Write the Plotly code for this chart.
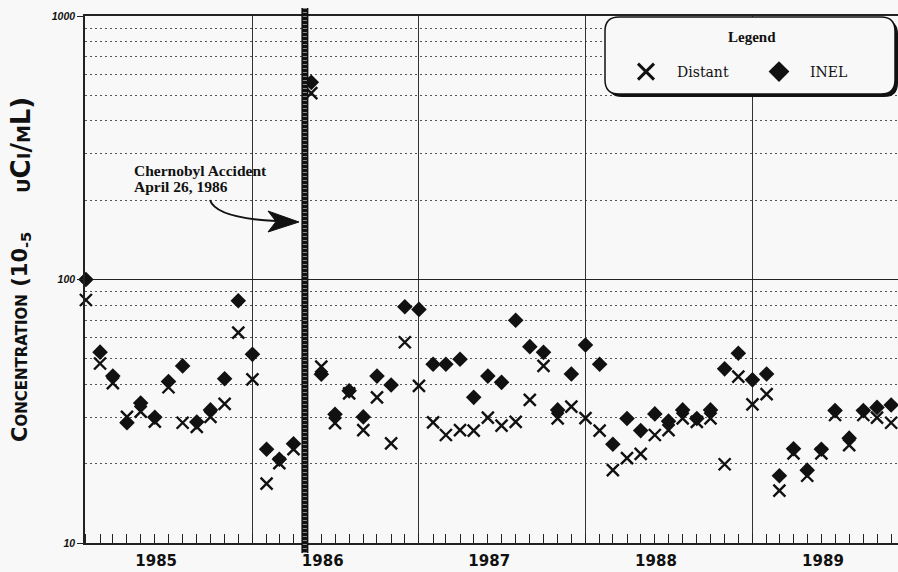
import plotly.graph_objects as go

# ---------------- data ----------------
sample_dates = [
    "1985-01-01", "1985-02-01", "1985-03-01", "1985-04-01", "1985-05-01", "1985-06-01",
    "1985-07-01", "1985-08-01", "1985-09-01", "1985-10-01", "1985-11-01", "1985-12-01",
    "1986-01-01", "1986-02-01", "1986-03-01", "1986-04-01", "1986-05-10", "1986-06-01",
    "1986-07-01", "1986-08-01", "1986-09-01", "1986-10-01", "1986-11-01", "1986-12-01",
    "1987-01-01", "1987-02-01", "1987-03-01", "1987-04-01", "1987-05-01", "1987-06-01",
    "1987-07-01", "1987-08-01", "1987-09-01", "1987-10-01", "1987-11-01", "1987-12-01",
    "1988-01-01", "1988-02-01", "1988-03-01", "1988-04-01", "1988-05-01", "1988-06-01",
    "1988-07-01", "1988-08-01", "1988-09-01", "1988-10-01", "1988-11-01", "1988-12-01",
    "1989-01-01", "1989-02-01", "1989-03-01", "1989-04-01", "1989-05-01", "1989-06-01",
    "1989-07-01", "1989-08-01", "1989-09-01", "1989-10-01", "1989-11-01",
]

inel = [
    100, 53, 43, 28.6, 34, 30, 41, 47, 28.8, 32, 42, 83,
    52, 22.7, 20.8, 23.8, 560, 43.7, 30.8, 37.8, 30.1, 43, 39.8, 78.8,
    77, 47.7, 47.7, 49.8, 35.7, 43, 40.7, 70, 55.6, 52.9, 32, 43.8,
    56.4, 47.7, 23.7, 29.7, 26.7, 30.9, 29, 32, 29.7, 32, 45.8, 52.5,
    41.6, 43.8, 18, 22.8, 18.9, 22.7, 31.8, 25, 31.8, 32.7, 33.4,
]

distant = [
    83.6, 48, 40.4, 30.1, 31.5, 28.9, 39, 28.6, 27.6, 30.1, 33.7, 62.9,
    41.8, 16.8, 20.1, 22.7, 510, 46.7, 28.5, 37, 26.8, 35.7, 23.9, 57.8,
    39.5, 28.7, 25.7, 26.8, 26.7, 29.9, 27.9, 28.8, 34.9, 47, 29.7, 32.9,
    29.8, 26.7, 18.9, 21, 21.8, 25.7, 26.8, 29.7, 28.8, 29.7, 19.9, 42.8,
    33.6, 36.7, 15.8, 21.9, 18, 21.9, 30.6, 23.5, 30.6, 29.9, 28.6,
]

y_tick_values = [10, 100, 1000]
y_tick_labels = ["10", "100", "1000"]
chernobyl_date = "1986-04-26"
x_range = ["1984-12-30", "1989-11-16"]

# ---------------- geometry helpers (decorations only) ----------------
W, H = 898, 572
ML, MR, MT, MB = 85, 0, 16, 29
PW = W - ML - MR
PH = H - MT - MB


def X(px):
    return (px - ML) / PW


def Y(py):
    return (H - MB - py) / PH


def rrect(x0, y0, x1, y1, r):
    return (
        f"M {X(x0 + r)},{Y(y0)} L {X(x1 - r)},{Y(y0)} "
        f"Q {X(x1)},{Y(y0)} {X(x1)},{Y(y0 + r)} L {X(x1)},{Y(y1 - r)} "
        f"Q {X(x1)},{Y(y1)} {X(x1 - r)},{Y(y1)} L {X(x0 + r)},{Y(y1)} "
        f"Q {X(x0)},{Y(y1)} {X(x0)},{Y(y1 - r)} L {X(x0)},{Y(y0 + r)} "
        f"Q {X(x0)},{Y(y0)} {X(x0 + r)},{Y(y0)} Z"
    )


BG = "#f8f8f8"
INK = "#111111"

fig = go.Figure()

fig.add_trace(go.Scatter(
    x=sample_dates, y=inel, mode="markers", name="INEL", showlegend=False,
    cliponaxis=False,
    marker=dict(symbol="diamond", size=12, color=INK, line=dict(width=0)),
))
fig.add_trace(go.Scatter(
    x=sample_dates, y=distant, mode="markers", name="Distant", showlegend=False,
    cliponaxis=False,
    marker=dict(symbol="x-thin", size=12, color=INK, line=dict(width=2.4, color=INK)),
))
# legend entries (larger symbols, as in the original key)
fig.add_trace(go.Scatter(
    x=[None], y=[None], mode="markers", name="Distant",
    marker=dict(symbol="x-thin", size=16, color=INK, line=dict(width=3, color=INK)),
))
fig.add_trace(go.Scatter(
    x=[None], y=[None], mode="markers", name="INEL",
    marker=dict(symbol="diamond", size=16, color=INK),
))

shapes = [
    # Chernobyl marker line
    dict(type="line", xref="x", yref="paper", x0=chernobyl_date, x1=chernobyl_date,
         y0=Y(553), y1=Y(8), line=dict(color=INK, width=7), layer="above"),
    dict(type="line", xref="x", yref="paper", x0=chernobyl_date, x1=chernobyl_date,
         y0=Y(553), y1=Y(8), line=dict(color="#8a8a8a", width=4, dash="1px,3px"), layer="above"),
    # curved arrow
    dict(type="path", xref="paper", yref="paper",
         path=f"M {X(210)},{Y(200)} C {X(214)},{Y(212)} {X(236)},{Y(219)} {X(276)},{Y(221)}",
         line=dict(color=INK, width=2), layer="above"),
    dict(type="path", xref="paper", yref="paper",
         path=f"M {X(299)},{Y(222)} L {X(268)},{Y(211)} L {X(276)},{Y(221.5)} L {X(268)},{Y(232)} Z",
         fillcolor=INK, line=dict(color=INK, width=1), layer="above"),
    # legend box with shadow
    dict(type="path", xref="paper", yref="paper", path=rrect(608, 20, 898, 97, 14),
         fillcolor=INK, line=dict(width=0), layer="above"),
    dict(type="path", xref="paper", yref="paper", path=rrect(605, 17, 895, 94, 14),
         fillcolor=BG, line=dict(color=INK, width=1.5), layer="above"),
]

serif_bold = dict(family="Liberation Serif", size=15.5, weight="bold", color=INK)
annotations = [
    dict(text="Chernobyl Accident", xref="paper", yref="paper", x=X(132), y=Y(170),
         xanchor="left", yanchor="middle", showarrow=False, font=serif_bold),
    dict(text="April 26, 1986", xref="paper", yref="paper", x=X(132), y=Y(186),
         xanchor="left", yanchor="middle", showarrow=False, font=serif_bold),
    dict(text="Legend", xref="paper", yref="paper", x=X(752), y=Y(37),
         xanchor="center", yanchor="middle", showarrow=False,
         font=dict(family="Liberation Serif", size=15, weight="bold", color=INK)),
    # y-axis title (two pieces so it spans the same length as the original)
    dict(text="Concentration (10<sub>-5</sub>", xref="paper", yref="paper",
         x=X(21), y=Y(337), xanchor="center", yanchor="middle", textangle=-90,
         showarrow=False,
         font=dict(family="DejaVu Sans", size=21, weight="bold",
                   variant="small-caps", color=INK)),
    dict(text="uCi/mL)", xref="paper", yref="paper",
         x=X(21), y=Y(145), xanchor="center", yanchor="middle", textangle=-90,
         showarrow=False,
         font=dict(family="DejaVu Sans", size=26, weight="bold",
                   variant="small-caps", color=INK)),
]

fig.update_layout(
    width=W, height=H,
    margin=dict(l=ML, r=MR, t=MT, b=MB, pad=0, autoexpand=False),
    paper_bgcolor=BG, plot_bgcolor=BG,
    shapes=shapes, annotations=annotations,
    showlegend=True,
    legend=dict(orientation="h", x=X(615), y=Y(72), xanchor="left", yanchor="middle",
                bgcolor="rgba(0,0,0,0)", borderwidth=0, itemwidth=52,
                entrywidth=66, entrywidthmode="pixels",
                font=dict(family="DejaVu Serif", size=14, color=INK)),
    xaxis=dict(
        type="date", range=x_range,
        tick0="1985-01-01", dtick="M12", tickformat="%Y", ticklabelmode="period",
        ticklabelshift=-13, ticklabelstandoff=3,
        ticks="inside", ticklen=9, tickwidth=1, tickcolor="#222",
        showgrid=True, gridcolor="#333", gridwidth=1.2,
        minor=dict(dtick="M1", ticks="inside", ticklen=9, tickwidth=1, tickcolor="#222",
                   showgrid=False),
        showline=True, linecolor="#222", linewidth=1.5, mirror=True,
        zeroline=False,
        tickfont=dict(family="DejaVu Sans", size=15, weight="bold", color=INK),
    ),
    yaxis=dict(
        type="log", range=[1, 3],
        tickvals=y_tick_values, ticktext=y_tick_labels,
        ticks="outside", ticklen=6, tickwidth=1, tickcolor="#222",
        showgrid=True, gridcolor="#222", gridwidth=1,
        minor=dict(dtick="D1", showgrid=True, gridcolor="#555", gridwidth=1,
                   griddash="2px,3px", ticks=""),
        showline=True, linecolor="#222", linewidth=1.5,
        zeroline=False,
        tickfont=dict(family="Liberation Sans", size=10.5, weight="bold",
                      style="italic", color=INK),
    ),
)

fig.write_html("out.html")
